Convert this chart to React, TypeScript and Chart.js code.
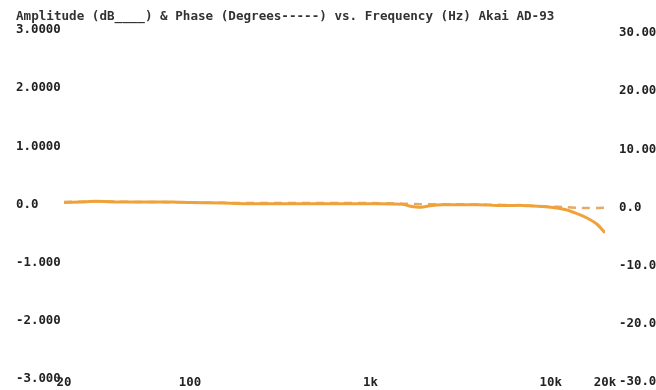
import React, { useEffect, useRef } from "react";
import { Chart, registerables } from "chart.js";

Chart.register(...registerables);

const TITLE = "Amplitude (dB____) & Phase (Degrees-----) vs. Frequency (Hz) Akai AD-93";

const freqs = [20, 25, 30, 40, 50, 60, 80, 100, 150, 200, 300, 500, 700, 1000, 1500, 1700, 1900, 2200, 2500, 3000, 4000, 5000, 6000, 7000, 8000, 10000, 12000, 14000, 16000, 18000, 20000];
const amplitudeDb = [0.0, 0.01, 0.02, 0.01, 0.01, 0.01, 0.01, 0.0, -0.01, -0.02, -0.02, -0.02, -0.02, -0.02, -0.03, -0.07, -0.08, -0.05, -0.04, -0.04, -0.04, -0.05, -0.05, -0.05, -0.06, -0.08, -0.12, -0.19, -0.27, -0.37, -0.52];
const phaseDeg = [0.1, 0.15, 0.2, 0.15, 0.1, 0.1, 0.05, 0.0, -0.05, -0.1, -0.1, -0.1, -0.1, -0.1, -0.2, -0.25, -0.3, -0.3, -0.3, -0.3, -0.35, -0.4, -0.45, -0.5, -0.6, -0.7, -0.8, -0.9, -0.95, -0.95, -0.9];

const xTicks = [20, 100, 1000, 10000, 20000];
const xTickLabels = ["20", "100", "1k", "10k", "20k"];
const leftTicks = [3, 2, 1, 0, -1, -2, -3];
const leftTickLabels = ["3.0000", "2.0000", "1.0000", "0.0", "-1.000", "-2.000", "-3.000"];
const rightTicks = [30, 20, 10, 0, -10, -20, -30];
const rightTickLabels = ["30.00", "20.00", "10.00", "0.0", "-10.0", "-20.0", "-30.0"];

const FONT_FAMILY = "'DejaVu Sans Mono', 'Liberation Mono', monospace";

export default function App() {
  const ref = useRef<HTMLCanvasElement | null>(null);

  useEffect(() => {
    document.body.style.margin = "0";
    const canvas = ref.current;
    if (!canvas) return;

    const titlePlugin = {
      id: "customTitle",
      afterDraw(chart: any) {
        const ctx = chart.ctx;
        ctx.save();
        ctx.font = `bold 12.6px ${FONT_FAMILY}`;
        ctx.fillStyle = "#333";
        ctx.textAlign = "left";
        ctx.textBaseline = "middle";
        ctx.fillText(TITLE, 16, 17);
        ctx.restore();
      },
    };

    const tickFont = { family: FONT_FAMILY, size: 12.4, weight: "bold" as const };

    const chart = new Chart(canvas, {
      type: "line",
      data: {
        datasets: [
          {
            label: "Amplitude (dB)",
            data: freqs.map((f, i) => ({ x: f, y: amplitudeDb[i] })),
            borderColor: "#F0A23A",
            borderWidth: 3,
            pointRadius: 0,
            tension: 0.3,
            yAxisID: "y",
          },
          {
            label: "Phase (Degrees)",
            data: freqs.map((f, i) => ({ x: f, y: phaseDeg[i] })),
            borderColor: "#E8A868",
            borderWidth: 2.5,
            borderDash: [8, 6],
            pointRadius: 0,
            tension: 0.3,
            yAxisID: "y2",
          },
        ],
      },
      options: {
        responsive: false,
        animation: false,
        layout: { padding: { top: 28, left: 16, right: 0, bottom: 0 } },
        plugins: {
          legend: { display: false },
          tooltip: { enabled: false },
          title: { display: false },
        },
        scales: {
          x: {
            type: "logarithmic",
            min: 20,
            max: 20000,
            grid: { display: false, drawTicks: false },
            border: { display: false },
            afterBuildTicks: (axis: any) => {
              axis.ticks = xTicks.map((v) => ({ value: v }));
            },
            afterFit: (axis: any) => {
              axis.height = 13;
            },
            ticks: {
              autoSkip: false,
              maxRotation: 0,
              padding: -2,
              color: "#222",
              font: tickFont,
              callback: (v: any) => {
                const i = xTicks.indexOf(Number(v));
                return i >= 0 ? xTickLabels[i] : "";
              },
            },
          },
          y: {
            position: "left",
            min: -3,
            max: 3,
            grid: { display: false, drawTicks: false },
            border: { display: false },
            afterBuildTicks: (axis: any) => {
              axis.ticks = leftTicks.map((v) => ({ value: v }));
            },
            afterFit: (axis: any) => {
              axis.width = 48;
              axis.paddingTop = 0;
              axis.paddingBottom = 0;
            },
            ticks: {
              crossAlign: "far",
              padding: 0,
              labelOffset: 2,
              color: "#222",
              font: tickFont,
              callback: (v: any) => {
                const i = leftTicks.indexOf(Number(v));
                return i >= 0 ? leftTickLabels[i] : "";
              },
            },
          },
          y2: {
            position: "right",
            min: -30,
            max: 30,
            grid: { display: false, drawTicks: false },
            border: { display: false },
            afterBuildTicks: (axis: any) => {
              axis.ticks = rightTicks.map((v) => ({ value: v }));
            },
            afterFit: (axis: any) => {
              axis.width = 51;
              axis.paddingTop = 0;
              axis.paddingBottom = 0;
            },
            ticks: {
              crossAlign: "near",
              padding: 14,
              labelOffset: 5,
              color: "#222",
              font: tickFont,
              callback: (v: any) => {
                const i = rightTicks.indexOf(Number(v));
                return i >= 0 ? rightTickLabels[i] : "";
              },
            },
          },
        },
      },
      plugins: [titlePlugin],
    });

    return () => chart.destroy();
  }, []);

  return (
    <div style={{ width: 656, height: 390, background: "#fff" }}>
      <canvas ref={ref} width={656} height={390} style={{ display: "block" }} />
    </div>
  );
}
